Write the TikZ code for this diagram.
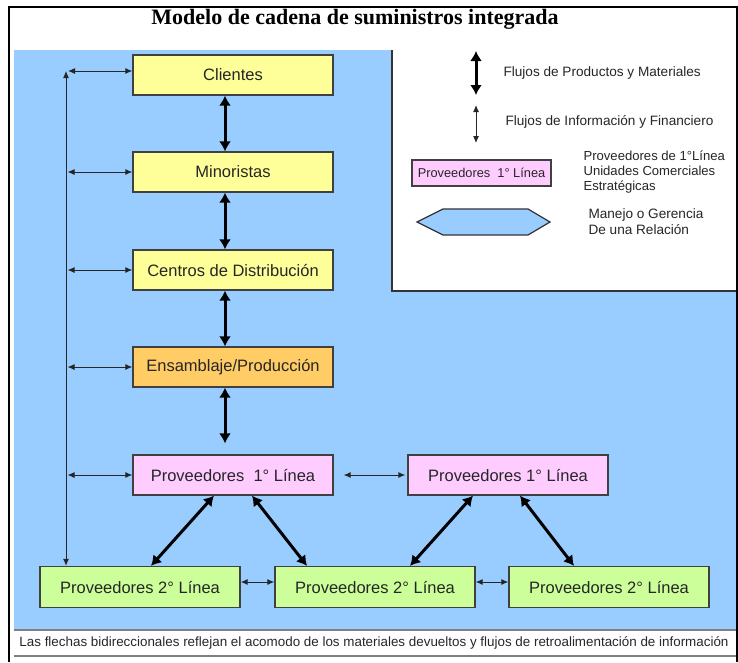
\documentclass[tikz,border=0pt]{standalone}
\usepackage{fontspec}
\setmainfont{Liberation Sans}
\newfontfamily\titlefont{Liberation Serif}
\usetikzlibrary{arrows.meta}

\definecolor{bgblue}{RGB}{153,204,255}
\definecolor{boxyellow}{RGB}{255,255,153}
\definecolor{boxorange}{RGB}{255,204,102}
\definecolor{boxpink}{RGB}{255,204,255}
\definecolor{boxgreen}{RGB}{204,255,153}

\begin{document}
\begin{tikzpicture}[x=1pt, y=-1pt]
    % Styles
    \tikzstyle{chain box}=[rectangle, draw=black!75, line width=1.3pt, minimum width=200pt, minimum height=40pt, inner sep=0pt, text=black!85, font=\fontsize{16.5}{19}\selectfont]
    \tikzstyle{thick flow}=[line width=3pt, {Latex[length=10pt,width=12pt]}-{Latex[length=10pt,width=12pt]}]
    \tikzstyle{thin flow}=[line width=1pt, black!85, {Latex[length=7pt,width=6pt]}-{Latex[length=7pt,width=6pt]}]
    \tikzstyle{legend text}=[anchor=west, align=left, text=black!85, font=\fontsize{13.6}{16}\selectfont]

    \useasboundingbox (0,0) rectangle (738,662);

    % --- Frame and background ---
    \fill[bgblue] (14,50) rectangle (736,630);
    \fill[white] (392,50) rectangle (736,291);
    \draw[black!80, line width=1.2pt] (392,50) -- (392,291) -- (736,291);
    \draw[line width=1.6pt] (9,662) -- (9,7) -- (737,7) -- (737,662);
    \draw[black!50, line width=1.2pt] (14,630) -- (736,630);
    \draw[black!50, line width=2pt] (14,656) -- (736,656);

    % Title
    \node[font=\titlefont\bfseries\fontsize{22}{24}\selectfont] (title) at (355,19) {Modelo de cadena de suministros integrada};

    % --- Main chain ---
    \node[chain box, fill=boxyellow] (cli) at (233,75) {Clientes};
    \node[chain box, fill=boxyellow] (min) at (233,172) {Minoristas};
    \node[chain box, fill=boxyellow] (cen) at (233,270) {Centros de Distribución};
    \node[chain box, fill=boxorange] (ens) at (233,367) {Ensamblaje/Producción};

    % --- Suppliers ---
    \node[chain box, fill=boxpink] (p1a) at (233,475) {Proveedores\ \ 1° Línea};
    \node[chain box, fill=boxpink] (p1b) at (508,475) {Proveedores 1° Línea};

    \node[chain box, fill=boxgreen, minimum height=41pt] (p2a) at (140,587) {Proveedores 2° Línea};
    \node[chain box, fill=boxgreen, minimum height=41pt] (p2b) at (375,587) {Proveedores 2° Línea};
    \node[chain box, fill=boxgreen, minimum height=41pt] (p2c) at (609,587) {Proveedores 2° Línea};

    % Product flows (thick)
    \draw[thick flow] ([xshift=-8pt]cli.south) -- ([xshift=-8pt]min.north);
    \draw[thick flow] ([xshift=-8pt]min.south) -- ([xshift=-8pt]cen.north);
    \draw[thick flow] ([xshift=-8pt]cen.south) -- ([xshift=-8pt]ens.north);
    \draw[thick flow, shorten >=11pt] ([xshift=-8pt]ens.south) -- ([xshift=-8pt]p1a.north);

    \draw[thick flow] ([xshift=-19pt]p1a.south) -- ([xshift=11pt]p2a.north);
    \draw[thick flow] ([xshift=19pt]p1a.south) -- ([xshift=-68pt]p2b.north);
    \draw[thick flow] ([xshift=-35pt]p1b.south) -- ([xshift=35pt]p2b.north);
    \draw[thick flow] ([xshift=12pt]p1b.south) -- ([xshift=-35pt]p2c.north);

    % Feedback flows (thin)
    \coordinate (fb_top) at (66,71);
    \draw[thin flow] ([xshift=-74pt]p2a.north) -- (fb_top);
    \draw[thin flow, shorten >=2pt] ([yshift=4pt]cli.west) -- (fb_top);
    \foreach \n in {min, cen, ens, p1a}
        \draw[thin flow, shorten >=1.5pt] (\n.west) -- (\n.west -| fb_top);

    \draw[thin flow, shorten <=10pt, shorten >=2pt] (p1a.east) -- (p1b.west);
    \draw[thin flow] ([yshift=5pt]p2a.east) -- ([yshift=5pt]p2b.west);
    \draw[thin flow] ([yshift=5pt]p2b.east) -- ([yshift=5pt]p2c.west);

    % --- Legend ---
    \coordinate (leg_t1) at (476,51);
    \coordinate (leg_b1) at (476,95);
    \coordinate (leg_t2) at (476,105);
    \coordinate (leg_b2) at (476,143);
    \draw[thick flow] (leg_t1) -- (leg_b1);
    \draw[thin flow] (leg_t2) -- (leg_b2);
    \node[legend text] (leg_prod) at (500,73) {Flujos de Productos y Materiales};
    \node[legend text] (leg_info) at (502,122) {Flujos de Información y Financiero};

    \node[chain box, fill=boxpink, minimum width=139pt, minimum height=26pt, font=\fontsize{12.8}{14}\selectfont] (leg_box) at (481.5,173) {Proveedores\ \ 1° Línea};
    \node[legend text, font=\fontsize{13.1}{15}\selectfont] (leg_box_txt) at (580,172) {Proveedores de 1°Línea\\Unidades Comerciales\\Estratégicas};

    \draw[black!80, line width=1.2pt, fill=bgblue] (417,222) -- (443,209) -- (528,209) -- (550,222) -- (528,235) -- (443,235) -- cycle;
    \node[legend text, font=\fontsize{13.6}{16}\selectfont] (leg_hex_txt) at (585,222) {Manejo o Gerencia\\De una Relación};

    % Caption
    \node[text=black!85, font=\fontsize{13.4}{15}\selectfont] (caption) at (374,643) {Las flechas bidireccionales reflejan el acomodo de los materiales devueltos y flujos de retroalimentación de información};
\end{tikzpicture}
\end{document}
